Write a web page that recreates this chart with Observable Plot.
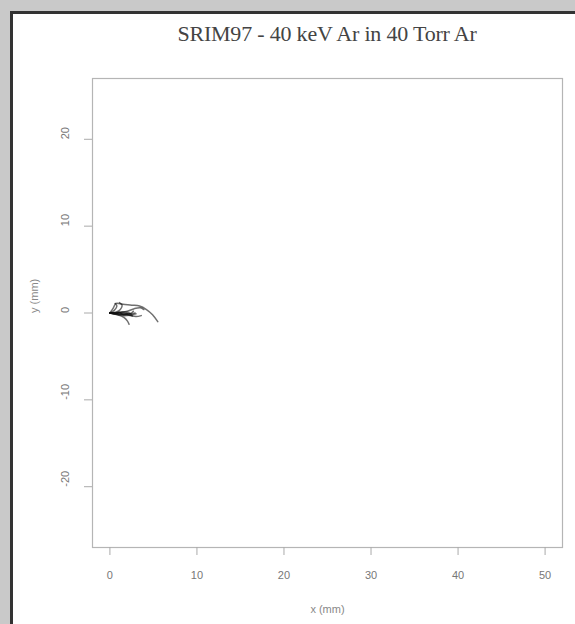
<!DOCTYPE html>
<html>
<head>
<meta charset="utf-8">
<script src="https://cdn.jsdelivr.net/npm/d3@7"></script>
<script src="https://cdn.jsdelivr.net/npm/@observablehq/plot@0.6"></script>
<style>
  html, body { margin: 0; padding: 0; background: #c9c9c9; width: 575px; height: 624px; overflow: hidden; }
  #frame { position: absolute; left: 10px; top: 11px; width: 600px; height: 660px; background: #fff; border-left: 3px solid #333; border-top: 3px solid #333; }
  #chart { position: absolute; left: 0; top: 0; }
  #title { position: absolute; left: 77px; width: 500px; top: 21px; text-align: center; font-family: "Liberation Serif", "DejaVu Serif", serif; font-size: 22px; letter-spacing: -0.2px; color: #444; }
</style>
</head>
<body>
<div id="frame"></div>
<div id="chart"></div>
<div id="title">SRIM97 - 40 keV Ar in 40 Torr Ar</div>
<script>
// Ion tracks, x and y in mm
const track1 = [[0,0],[0.8,0.05],[1.6,0.0],[2.3,-0.1],[2.9,0.0]];
const track2 = [[0,0],[0.9,-0.1],[1.7,-0.2],[2.4,-0.05],[2.7,0.2]];
const track3 = [[0,0],[0.7,0.1],[1.2,0.4],[1.4,0.9],[1.1,1.2]];
const track4 = [[0,0],[0.4,0.6],[0.7,1.1],[1.5,1.0],[2.5,0.9],[3.4,0.8],[4.2,0.4],[4.9,-0.2],[5.5,-1.0]];
const track5 = [[0,0],[0.9,-0.2],[1.6,-0.5],[2.0,-0.9],[2.2,-1.3]];
const track6 = [[0,0],[1.0,0.0],[2.0,0.2],[2.8,0.5],[3.5,0.6],[3.9,0.4]];
const track7 = [[0,0],[0.6,-0.05],[1.1,0.1],[1.5,-0.2],[2.0,-0.1]];
const track8 = [[0,0],[0.5,0.3],[0.8,0.8],[0.6,1.1]];
const track9 = [[0,0],[1.2,-0.05],[2.2,-0.25],[3.0,-0.4],[3.6,-0.3]];
const track10 = [[0,0],[0.7,0.0],[1.4,0.15],[2.1,0.05],[2.5,-0.2]];
const track11 = [[0,0],[0.8,-0.15],[1.5,-0.3],[2.3,-0.25],[3.0,-0.1]];
const track12 = [[0,0],[1.0,-0.2],[1.9,-0.1],[2.6,-0.35]];
const tracks = [track1, track2, track3, track4, track5, track6, track7, track8, track9, track10, track11, track12];

const xTicks = [0, 10, 20, 30, 40, 50];
const yTicks = [-20, -10, 0, 10, 20];
const xLabel = "x (mm)";
const yLabel = "y (mm)";

const rows = tracks.flatMap((t, i) => t.map(([x, y], j) => ({track: i, order: j, x, y})));

const sans = "'Liberation Sans', Arial, sans-serif";
const chart = Plot.plot({
  width: 575,
  height: 624,
  marginLeft: 92,
  marginRight: 13,
  marginTop: 78,
  marginBottom: 77,
  style: {background: "transparent", fontFamily: sans, color: "#555"},
  x: {domain: [-2, 52], axis: null},
  y: {domain: [-27, 27], axis: null},
  marks: [
    Plot.frame({stroke: "#b5b5b5", strokeWidth: 1.2}),
    Plot.axisX({ticks: xTicks, tickSize: 8, tickFormat: () => "", stroke: "#aaa", label: null}),
    Plot.axisY({ticks: yTicks, tickSize: 8, tickFormat: () => "", stroke: "#aaa", label: null}),
    Plot.text(xTicks, {x: d => d, frameAnchor: "bottom", dy: 28, text: d => String(d), fontSize: 11, fill: "#777", lineAnchor: "middle"}),
    Plot.text(yTicks, {y: d => d, frameAnchor: "left", dx: -27, rotate: -90, text: d => String(d), fontSize: 11, fill: "#777", lineAnchor: "middle"}),
    Plot.text([xLabel], {frameAnchor: "bottom", dy: 62, text: d => d, fontSize: 11, fill: "#888", lineAnchor: "middle"}),
    Plot.text([yLabel], {frameAnchor: "left", dx: -58, rotate: -90, text: d => d, fontSize: 11, fill: "#888", lineAnchor: "middle"}),
    Plot.line(rows, {x: "x", y: "y", z: "track", stroke: "#111", strokeWidth: 1.5, strokeOpacity: 0.6, curve: "catmull-rom"})
  ]
});
document.getElementById("chart").appendChild(chart);
</script>
</body>
</html>
